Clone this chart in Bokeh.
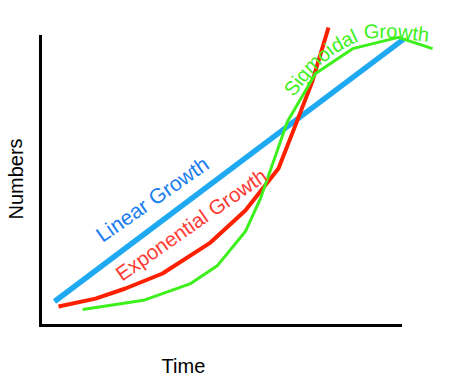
from bokeh.plotting import figure
from bokeh.models import Range1d, LinearAxis, ColumnDataSource
from bokeh.core.properties import value
from bokeh.embed import file_html
from bokeh.resources import INLINE
import math

# ---- data (time units 0..10, numbers units 0..10) ----
linear_t = [0.39, 10.08]
linear_n = [0.83, 9.90]

expo_t = [0.50, 1.53, 2.36, 3.39, 4.72, 5.69, 6.61, 7.11, 7.56, 8.00]
expo_n = [0.66, 0.93, 1.28, 1.80, 2.87, 3.98, 5.43, 7.02, 8.48, 10.31]

sig_t = [1.17, 2.86, 4.17, 4.92, 5.69, 6.11, 6.86, 7.64, 8.67, 9.94, 10.89]
sig_n = [0.55, 0.87, 1.45, 2.08, 3.25, 4.39, 7.06, 8.72, 9.58, 9.97, 9.58]

series_names = ["Linear Growth", "Exponential Growth", "Sigmoidal Growth"]
x_title = "Time"
y_title = "Numbers"

# ---- label placement (baseline positions in data units, angle deg, font px) ----
linear_lbl = (1.72, 2.855, 35, 21)
expo_lbl = (2.26, 1.52, 35, 20.5)
time_lbl = (3.97, -1.63, 0, 20)
numbers_lbl = (-0.5, 5.07, 90, 20)
# baseline path followed by the curved "Sigmoidal Growth" label
sig_path_t = [7.028, 7.611, 8.167, 8.639, 9.000, 9.889, 10.778]
sig_path_n = [7.889, 8.806, 9.394, 9.723, 9.931, 9.948, 9.810]
SIG_FS = 20

FONT = "Liberation Sans"
MID = 0.35              # distance from baseline to text middle, in em
BLUE_LINE = "#1EA9F1"
BLUE_TEXT = "#1A7DF0"
RED_LINE = "#FF2000"
RED_TEXT = "#FF3A34"
GREEN = "#3DF01C"

W, H = 451, 378
ORIGIN_PX = (40, 325)   # screen position of (0, 0)
PX_T = 36.0             # pixels per time unit
PX_N = 28.9             # pixels per numbers unit

x_range = Range1d(-ORIGIN_PX[0] / PX_T, (W - ORIGIN_PX[0]) / PX_T)
y_range = Range1d(-(H - ORIGIN_PX[1]) / PX_N, ORIGIN_PX[1] / PX_N)

p = figure(width=W, height=H, output_backend="svg", toolbar_location=None,
           x_axis_location=None, y_axis_location=None, min_border=0,
           x_range=x_range, y_range=y_range,
           background_fill_color="white", border_fill_color="white")
p.outline_line_color = None
p.grid.visible = False

for side in ("below", "left"):
    ax = LinearAxis(fixed_location=0, bounds=(0, 10), ticker=[],
                    major_tick_out=0, major_tick_in=0, minor_tick_out=0, minor_tick_in=0,
                    major_label_text_font_size="0px", major_label_standoff=0,
                    axis_line_width=3, axis_line_color="black", axis_line_cap="square")
    p.add_layout(ax, side)

p.line(linear_t, linear_n, line_color=BLUE_LINE, line_width=5.5)
p.line(expo_t, expo_n, line_color=RED_LINE, line_width=4, line_join="round")
p.line(sig_t, sig_n, line_color=GREEN, line_width=3, line_join="round")

def lift(t, n, ang, fs):
    """move a baseline point to the text middle, along the glyph's up direction"""
    d = MID * fs
    return (t - math.sin(ang) * d / PX_T, n + math.cos(ang) * d / PX_N)

def put(lbl, text, color, align):
    ang = math.radians(lbl[2])
    x, y = lift(lbl[0], lbl[1], ang, lbl[3])
    p.text(x=[x], y=[y], text=[text], angle=[ang], text_color=color,
           text_align=align, text_baseline="middle",
           text_font=value(FONT), text_font_size=f"{lbl[3]}px")

put(linear_lbl, series_names[0], BLUE_TEXT, "left")
put(expo_lbl, series_names[1], RED_TEXT, "left")
put(time_lbl, x_title, "black", "center")
put(numbers_lbl, y_title, "black", "center")

# ---- text along a path for "Sigmoidal Growth" ----
ARIAL_W = {"S": .667, "i": .222, "g": .556, "m": .833, "o": .556, "d": .556,
           "a": .556, "l": .222, " ": .278, "G": .778, "r": .333, "w": .722,
           "t": .278, "h": .556}

pts = [(ORIGIN_PX[0] + t * PX_T, ORIGIN_PX[1] - n * PX_N) for t, n in zip(sig_path_t, sig_path_n)]
seg_len = [math.dist(pts[i], pts[i + 1]) for i in range(len(pts) - 1)]
cum = [0.0]
for L in seg_len:
    cum.append(cum[-1] + L)

def point_at(s):
    if s <= 0:
        i = 0
    elif s >= cum[-1]:
        i = len(seg_len) - 1
    else:
        i = max(k for k in range(len(seg_len)) if cum[k] <= s)
    f = (s - cum[i]) / seg_len[i]
    (x0, y0), (x1, y1) = pts[i], pts[i + 1]
    return x0 + f * (x1 - x0), y0 + f * (y1 - y0)

cx, cy, ca, ct = [], [], [], []
s = 0.0
for ch in series_names[2]:
    w = ARIAL_W.get(ch, .556) * SIG_FS
    if ch != " ":
        mx, my = point_at(s + w / 2)
        ax0, ay0 = point_at(s)
        ax1, ay1 = point_at(s + w)
        ang = math.atan2(-(ay1 - ay0), ax1 - ax0)
        x, y = lift((mx - ORIGIN_PX[0]) / PX_T, (ORIGIN_PX[1] - my) / PX_N, ang, SIG_FS)
        cx.append(x)
        cy.append(y)
        ca.append(ang)
        ct.append(ch)
    s += w

src = ColumnDataSource(dict(x=cx, y=cy, t=ct, a=ca))
p.text(x="x", y="y", text="t", angle="a", source=src, text_color=GREEN,
       text_align="center", text_baseline="middle",
       text_font=value(FONT), text_font_size=f"{SIG_FS}px")

open("out.html", "w").write(file_html(p, INLINE))
